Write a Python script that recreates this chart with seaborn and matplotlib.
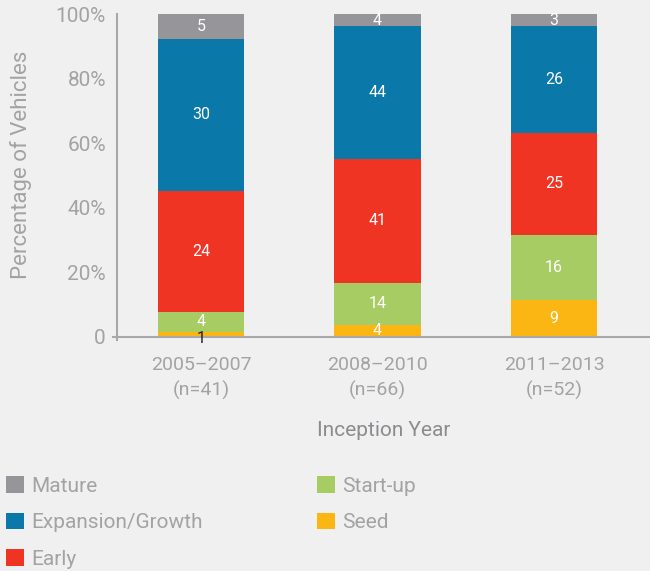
import numpy as np
import pandas as pd
import matplotlib
matplotlib.use("Agg")
import matplotlib.pyplot as plt
from matplotlib.patches import Patch
import seaborn as sns

periods = ["2005\u20132007\n(n=41)", "2008\u20132010\n(n=66)", "2011\u20132013\n(n=52)"]
stages = ["Seed", "Start-up", "Early", "Expansion/Growth", "Mature"]
seed = [1, 4, 9]
startup = [4, 14, 16]
early = [24, 41, 25]
expansion = [30, 44, 26]
mature = [5, 4, 3]
colors = {"Seed": "#fcb614", "Start-up": "#a8cc64", "Early": "#f03424",
          "Expansion/Growth": "#0a78a8", "Mature": "#96969a"}
label_colors = {"Seed": ["#222222", "white", "white"]}

sns.set_theme(style="white")
plt.rcParams["font.family"] = ["Roboto", "DejaVu Sans"]
grey = "#a3a3a5"
bg = "#f0f0f0"

counts = pd.DataFrame({"Seed": seed, "Start-up": startup, "Early": early,
                       "Expansion/Growth": expansion, "Mature": mature}, index=periods)
pct = counts.div(counts.sum(axis=1), axis=0) * 100
cum = pct.cumsum(axis=1)

fig = plt.figure(figsize=(6.5, 5.71), dpi=100, facecolor=bg)
ax = fig.add_axes([117/650, 1-337/571, 1-117/650, (337-14)/571])
ax.set_facecolor(bg)

for st in reversed(stages):
    df = pd.DataFrame({"period": periods, "val": cum[st].values})
    sns.barplot(data=df, x="period", y="val", color=colors[st], width=0.49,
                saturation=1, ax=ax, edgecolor="none", linewidth=0)

for i, p in enumerate(periods):
    base = 0
    for st in stages:
        h = pct.loc[p, st]
        c = label_colors.get(st, ["white"]*3)[i]
        yy = base + h/2
        if st == "Seed" and h < 2:
            yy = base - 0.5
        ax.text(i, yy, str(counts.loc[p, st]), ha="center", va="center",
                color=c, fontsize=11.5)
        base += h

ax.set_xlim(-0.476, 2.544)
ax.set_ylim(0, 100)
ax.set_yticks([0, 20, 40, 60, 80, 100])
ax.set_yticklabels(["0", "20%", "40%", "60%", "80%", "100%"])
ax.tick_params(axis="both", length=0, colors=grey)
ax.tick_params(axis="y", pad=8, labelsize=15)
ax.tick_params(axis="x", pad=14, labelsize=14)
for s in ["top", "right"]:
    ax.spines[s].set_visible(False)
for s in ["left", "bottom"]:
    ax.spines[s].set_color("#a8a8aa")
    ax.spines[s].set_linewidth(1.5)
ax.spines["left"].set_bounds(-1, 100)
ax.spines["bottom"].set_bounds(-0.496, 2.544)
ax.set_ylabel("Percentage of Vehicles", color=grey, fontsize=16)
ax.yaxis.set_label_coords(-85/533, 0.532)
ax.set_xlabel("Inception Year", color="#8c8c90", fontsize=15, labelpad=15)
for t in ax.get_xticklabels():
    t.set_linespacing(1.42)

handles = [Patch(facecolor=colors[s], edgecolor="none", label=s)
           for s in ["Mature", "Expansion/Growth", "Early", "Start-up", "Seed"]]
leg = fig.legend(handles=handles, loc="upper left", bbox_to_anchor=(0.0, 1-470/571),
                 ncol=2, frameon=False, fontsize=15, handlelength=0.85, handleheight=0.85,
                 handletextpad=0.35, labelspacing=0.82, columnspacing=5.5, borderaxespad=0,
                 borderpad=0.3)
for t in leg.get_texts():
    t.set_color(grey)

fig.savefig("out.png", dpi=100, facecolor=bg)
